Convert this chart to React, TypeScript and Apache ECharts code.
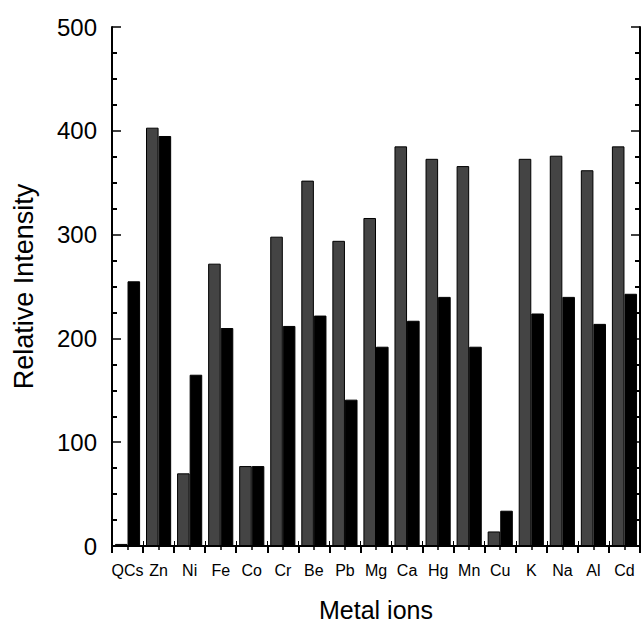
import React, { useEffect, useRef } from "react";
import * as echarts from "echarts";

const categories = ["QCs", "Zn", "Ni", "Fe", "Co", "Cr", "Be", "Pb", "Mg", "Ca", "Hg", "Mn", "Cu", "K", "Na", "Al", "Cd"];
const grayValues = [2, 403, 70, 272, 77, 298, 352, 294, 316, 385, 373, 366, 14, 373, 376, 362, 385];
const blackValues = [255, 395, 165, 210, 77, 212, 222, 141, 192, 217, 240, 192, 34, 224, 240, 214, 243];
const yTicks = { min: 0, max: 500, interval: 100 };

const FONT = "Liberation Sans, Arial, sans-serif";

export default function App() {
  const ref = useRef<HTMLDivElement>(null);
  useEffect(() => {
    if (!ref.current) return;
    const chart = echarts.init(ref.current, null, { renderer: "svg" });
    const axisLine = { show: true, lineStyle: { color: "#000", width: 2 } };
    chart.setOption({
      animation: false,
      backgroundColor: "#fff",
      textStyle: { fontFamily: FONT },
      grid: { left: 112, right: 1, top: 27, bottom: 73, containLabel: false },
      xAxis: [
        {
          type: "category",
          position: "bottom",
          data: categories,
          axisLine,
          axisTick: { show: true, inside: true, length: 5, interval: 0, lineStyle: { color: "#000", width: 1 } },
          axisLabel: { interval: 0, color: "#000", fontSize: 16, fontFamily: FONT, margin: 16 },
          splitLine: { show: false },
          name: "Metal ions",
          nameLocation: "middle",
          nameGap: 51,
          nameTextStyle: { color: "#000", fontSize: 25, fontFamily: FONT },
        },
        {
          type: "value",
          position: "top",
          min: 0,
          max: 17,
          interval: 1,
          axisLine,
          axisTick: { show: true, inside: true, length: 7, lineStyle: { color: "#000", width: 2 } },
          minorTick: { show: true, splitNumber: 2, length: 4, lineStyle: { color: "#000", width: 1.5 } },
          axisLabel: { show: false },
          splitLine: { show: false },
        },
      ],
      yAxis: [
        {
          type: "value",
          position: "left",
          min: yTicks.min,
          max: yTicks.max,
          interval: yTicks.interval,
          axisLine,
          axisTick: { show: true, inside: true, length: 9, lineStyle: { color: "#000", width: 1.5 } },
          minorTick: { show: true, splitNumber: 4, length: 5, lineStyle: { color: "#000", width: 2 } },
          axisLabel: { color: "#000", fontSize: 24, fontFamily: FONT, margin: 15 },
          splitLine: { show: false },
          name: "Relative Intensity",
          nameLocation: "middle",
          nameGap: 75,
          nameTextStyle: { color: "#000", fontSize: 27, fontFamily: FONT },
        },
        {
          type: "value",
          position: "right",
          min: yTicks.min,
          max: yTicks.max,
          interval: yTicks.interval,
          axisLine,
          axisTick: { show: true, inside: true, length: 9, lineStyle: { color: "#000", width: 1.5 } },
          minorTick: { show: true, splitNumber: 4, length: 5, lineStyle: { color: "#000", width: 2 } },
          axisLabel: { show: false },
          splitLine: { show: false },
        },
      ],
      series: [
        {
          type: "bar",
          xAxisIndex: 0,
          yAxisIndex: 0,
          data: grayValues,
          barGap: "0%",
          barCategoryGap: "19%",
          itemStyle: { color: "#444444", borderColor: "#000", borderWidth: 1 },
        },
        {
          type: "bar",
          xAxisIndex: 0,
          yAxisIndex: 0,
          data: blackValues,
          barGap: "0%",
          barCategoryGap: "19%",
          itemStyle: { color: "#000000", borderColor: "#000", borderWidth: 1 },
        },
      ],
    });
    return () => chart.dispose();
  }, []);
  return <div ref={ref} style={{ position: "fixed", left: 0, top: 0, width: 641, height: 627 }} />;
}
